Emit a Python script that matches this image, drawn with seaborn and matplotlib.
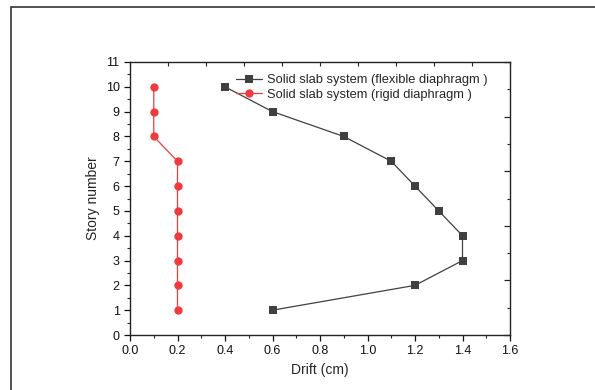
import matplotlib
matplotlib.use("Agg")
import matplotlib.pyplot as plt
from matplotlib.patches import Rectangle
from matplotlib.ticker import MultipleLocator, NullFormatter
import seaborn as sns
import pandas as pd

sns.set_style("white")
plt.rcParams["font.family"] = ["Liberation Sans", "DejaVu Sans"]

stories = [1, 2, 3, 4, 5, 6, 7, 8, 9, 10]
drift_flexible = [0.6, 1.2, 1.4, 1.4, 1.3, 1.2, 1.1, 0.9, 0.6, 0.4]
drift_rigid = [0.2, 0.2, 0.2, 0.2, 0.2, 0.2, 0.2, 0.1, 0.1, 0.1]
label_flexible = "Solid slab system (flexible diaphragm )"
label_rigid = "Solid slab system (rigid diaphragm )"

df = pd.DataFrame({
    "story": stories * 2,
    "drift": drift_flexible + drift_rigid,
    "system": [label_flexible] * len(stories) + [label_rigid] * len(stories),
})

fig = plt.figure(figsize=(5.95, 3.9), dpi=100)
ax = fig.add_axes([130 / 595, 1 - 335 / 390, 380 / 595, 273 / 390])

# page frame around the figure
fig.patches.append(Rectangle((11 / 595, -0.01), 1.0, 1 - 7 / 390 + 0.01,
                             transform=fig.transFigure, fill=False,
                             edgecolor="#333333", linewidth=1.2, zorder=0))

sns.lineplot(data=df, x="drift", y="story", hue="system", style="system",
             markers={label_flexible: "s", label_rigid: "o"},
             dashes=False, sort=False, estimator=None,
             palette={label_flexible: "#404040", label_rigid: "#EF3A3E"},
             markersize=6, markeredgewidth=0, linewidth=0.9, ax=ax)

ax.set_xlim(0, 1.6)
ax.set_ylim(0, 11)
ax.xaxis.set_major_locator(MultipleLocator(0.2))
ax.xaxis.set_minor_locator(MultipleLocator(0.1))
ax.yaxis.set_major_locator(MultipleLocator(1))
ax.yaxis.set_minor_locator(MultipleLocator(0.5))
ax.tick_params(which="major", direction="out", length=4, width=0.9, labelsize=9, colors="#111111")
ax.tick_params(which="minor", direction="out", length=2.5, width=0.8)
ax.tick_params(bottom=True, left=True, which="both")
ax.set_xlabel("Drift (cm)", fontsize=10)
ax.set_ylabel("Story number", fontsize=10)
for s in ax.spines.values():
    s.set_color("#222222")
    s.set_linewidth(1.0)

# inward ticks on the top and right frame edges
top = ax.twiny()
top.set_xlim(0, 10)
top.xaxis.set_major_locator(MultipleLocator(1))
top.tick_params(axis="x", direction="in", length=3, width=0.8, labeltop=False)
right = ax.twinx()
right.set_ylim(0, 10)
right.yaxis.set_major_locator(MultipleLocator(2))
right.yaxis.set_minor_locator(MultipleLocator(1))
right.tick_params(axis="y", which="major", direction="in", length=4, width=0.9, labelright=False)
right.tick_params(axis="y", which="minor", direction="in", length=2.5, width=0.8)
right.yaxis.set_major_formatter(NullFormatter())
for a in (top, right):
    for s in a.spines.values():
        s.set_visible(False)

leg = ax.legend(loc="upper left", bbox_to_anchor=(0.265, 0.975), frameon=False,
                fontsize=9.3, handlelength=2.0, handletextpad=0.4,
                labelspacing=0.2, borderaxespad=0)

fig.savefig("out.png", dpi=100)
